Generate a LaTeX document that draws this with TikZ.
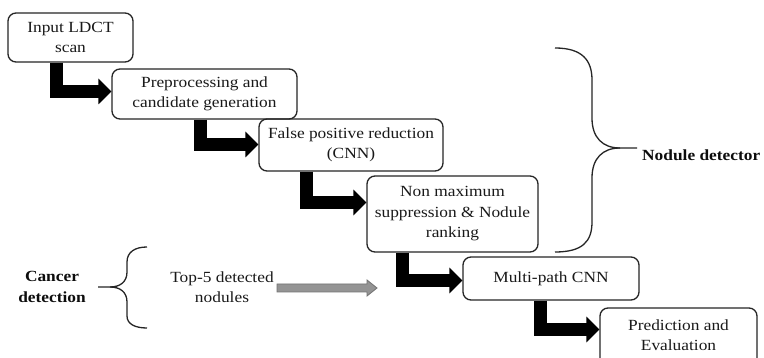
\documentclass[tikz,border=0pt]{standalone}
\usepackage{fontspec}
\setmainfont{Liberation Serif}[FakeStretch=1.12]
\usetikzlibrary{arrows.meta}
\tikzset{
  stepbox/.style={draw=black!85, line width=1.3pt, rounded corners=8pt, align=center,
    inner sep=0pt, font=\fontsize{15.5}{20.5}\selectfont, text=black!90},
  bigarrow/.style={line width=13pt, draw=black, line join=miter,
    -{Triangle[width=25pt,length=13pt]}},
  brace/.style={draw=black!85, line width=1.3pt},
  lbl/.style={align=center, font=\fontsize{15.5}{20.5}\selectfont, text=black!90, inner sep=0pt},
  blbl/.style={align=center, font=\fontsize{15.5}{21}\selectfont\bfseries, text=black!95, inner sep=0pt},
}
\begin{document}
\begin{tikzpicture}[x=1pt,y=-1pt]
\useasboundingbox (0,0) rectangle (764,358);
\clip (0,0) rectangle (764,358);
\fill[white] (0,0) rectangle (764,358);

\node[stepbox, minimum width=125pt, minimum height=49pt] (b1) at (70.5,37.5) {Input LDCT\\scan};
\node[stepbox, minimum width=185pt, minimum height=50pt] (b2) at (204.5,94) {Preprocessing and\\candidate generation};
\node[stepbox, minimum width=184pt, minimum height=52pt] (b3) at (351,145) {False positive reduction\\(CNN)};
\node[stepbox, minimum width=171pt, minimum height=76pt] (b4) at (452.5,214) {Non maximum\\suppression \& Nodule\\ranking};
\node[stepbox, minimum width=176pt, minimum height=43pt] (b5) at (551,278.5) {\raisebox{-3pt}{Multi-path CNN}};
\node[stepbox, minimum width=157pt, minimum height=64pt] (b6) at (678.5,340) {};
\node[lbl] (b6t) at (678.5,335) {Prediction and\\Evaluation};

\draw[bigarrow] ([xshift=-14.5pt]b1.south) |- ([yshift=2.5pt]b2.west);
\draw[bigarrow] ([xshift=-4pt]b2.south) |- ([yshift=0.5pt]b3.west);
\draw[bigarrow] ([xshift=-45pt]b3.south) |- ([yshift=11.5pt]b4.west);
\draw[bigarrow] ([xshift=-50pt]b4.south) |- ([yshift=-2pt]b5.west);
\draw[bigarrow] ([xshift=-11pt]b5.south) |- ([yshift=10.5pt]b6.west);

% Nodule detector brace
\draw[brace] (555,48) .. controls (582,48) and (592,60) .. (592,80) -- (592,118)
  .. controls (592,138) and (603,148) .. (620,148) -- (637,148);
\draw[brace] (620,148) .. controls (603,148) and (592,158) .. (592,178) -- (592,222)
  .. controls (592,242) and (582,252) .. (555,252);
\node[blbl, anchor=west] (nd) at (642,155) {Nodule detector};

% Cancer detection brace
\draw[brace] (147,247) .. controls (135,247) and (127,252) .. (127,262) -- (127,272)
  .. controls (127,282) and (120,287) .. (110,287) -- (98,287);
\draw[brace] (110,287) .. controls (120,287) and (127,292) .. (127,302) -- (127,316)
  .. controls (127,324) and (135,328) .. (147,328);
\node[blbl] (cd) at (52,287) {Cancer\\detection};

\node[lbl] (top) at (222,287) {Top-5 detected\\nodules};

\coordinate (g0) at (277,288);
\filldraw[fill=black!42, draw=black!55, line width=0.8pt]
  (g0) ++(0,-4) -- ++(90,0) -- ++(0,-4) -- ++(10,8) -- ++(-10,8) -- ++(0,-4) -- ++(-90,0) -- cycle;
\end{tikzpicture}
\end{document}
